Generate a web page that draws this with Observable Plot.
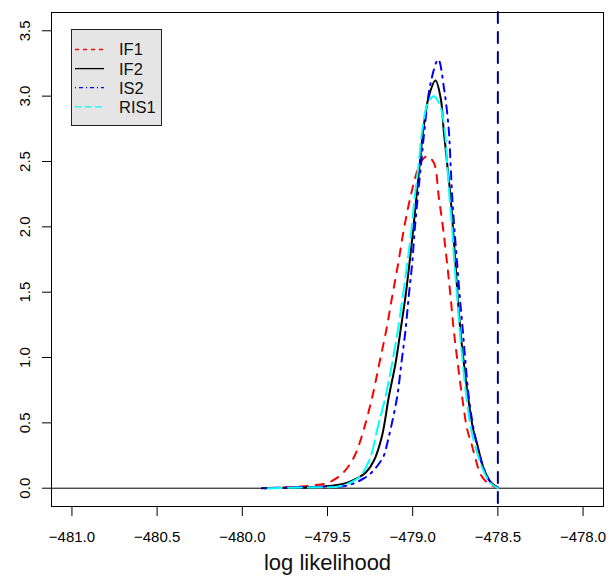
<!DOCTYPE html>
<html><head><meta charset="utf-8">
<script src="https://cdn.jsdelivr.net/npm/d3@7"></script>
<script src="https://cdn.jsdelivr.net/npm/@observablehq/plot@0.6"></script>
<style>
body{margin:0;background:#fff;}
#wrap{position:relative;width:610px;height:578px;font-family:"Liberation Sans",Arial,sans-serif;}
#legend{position:absolute;left:71px;top:29px;}
</style></head><body><div id="wrap"></div>
<script>
// series names, colours, dash patterns
const seriesNames = ["IF1", "IF2", "IS2", "RIS1"];
const seriesColors = ["#ff0000", "#000000", "#0000ff", "#00ffff"];
const seriesDash = ["8,8", null, "2,6,8,6", "14,6"];
const legendDash = ["4,4", null, "1,3,4,3", "7,3"];

// density curves (x = log likelihood, y = density)
const if1X = [-479.85, -479.75, -479.677, -479.60, -479.501, -479.423, -479.365, -479.33, -479.287, -479.237, -479.195, -479.155, -479.12, -479.085, -479.052, -479.013, -478.975, -478.945, -478.915, -478.876, -478.847, -478.821, -478.798, -478.778, -478.759, -478.736, -478.71, -478.68, -478.655, -478.632, -478.603, -478.56, -478.505];
const if1Y = [0.002, 0.006, 0.012, 0.02, 0.04, 0.10, 0.19, 0.28, 0.45, 0.70, 0.96, 1.21, 1.47, 1.72, 1.98, 2.23, 2.42, 2.51, 2.54, 2.49, 2.23, 1.98, 1.72, 1.47, 1.21, 0.96, 0.70, 0.45, 0.34, 0.23, 0.11, 0.04, 0.005];

const if2X = [-479.89, -479.75, -479.60, -479.52, -479.443, -479.38, -479.325, -479.275, -479.228, -479.18, -479.14, -479.10, -479.071, -479.042, -479.019, -478.997, -478.978, -478.958, -478.938, -478.905, -478.866, -478.835, -478.818, -478.798, -478.778, -478.763, -478.749, -478.736, -478.72, -478.70, -478.675, -478.645, -478.622, -478.603, -478.583, -478.545, -478.495];
const if2Y = [0.0, 0.003, 0.008, 0.014, 0.025, 0.045, 0.077, 0.12, 0.21, 0.40, 0.70, 0.96, 1.21, 1.47, 1.72, 1.98, 2.23, 2.49, 2.74, 3.00, 3.12, 2.98, 2.74, 2.49, 2.23, 1.98, 1.72, 1.47, 1.21, 0.96, 0.70, 0.45, 0.34, 0.24, 0.15, 0.05, 0.0];

const is2X = [-479.873, -479.75, -479.60, -479.50, -479.404, -479.34, -479.287, -479.245, -479.208, -479.169, -479.15, -479.13, -479.091, -479.066, -479.042, -479.023, -479.003, -478.988, -478.970, -478.95, -478.931, -478.895, -478.85, -478.815, -478.788, -478.778, -478.768, -478.755, -478.739, -478.724, -478.706, -478.69, -478.671, -478.642, -478.603, -478.583, -478.545, -478.495];
const is2Y = [0.0, 0.005, 0.01, 0.012, 0.015, 0.04, 0.075, 0.115, 0.17, 0.25, 0.34, 0.45, 0.70, 0.96, 1.21, 1.47, 1.72, 1.98, 2.23, 2.49, 2.74, 3.10, 3.28, 3.05, 2.74, 2.49, 2.23, 1.98, 1.72, 1.47, 1.21, 0.96, 0.70, 0.45, 0.23, 0.15, 0.05, 0.0];

const ris1X = [-479.85, -479.70, -479.55, -479.443, -479.37, -479.306, -479.25, -479.208, -479.16, -479.12, -479.087, -479.058, -479.032, -479.007, -478.988, -478.964, -478.944, -478.91, -478.876, -478.84, -478.812, -478.798, -478.784, -478.768, -478.755, -478.739, -478.724, -478.706, -478.685, -478.657, -478.612, -478.58, -478.545, -478.50];
const ris1Y = [0.0, 0.004, 0.007, 0.012, 0.04, 0.095, 0.23, 0.45, 0.70, 0.96, 1.21, 1.47, 1.72, 1.98, 2.23, 2.49, 2.74, 2.95, 3.00, 2.93, 2.74, 2.49, 2.23, 1.98, 1.72, 1.47, 1.21, 0.96, 0.70, 0.45, 0.23, 0.12, 0.04, 0.0];

// reference lines
const refX = [-478.5];
const refY = [0];

// axis ticks
const xTicks = [-481.0, -480.5, -480.0, -479.5, -479.0, -478.5, -478.0];
const yTicks = [0.0, 0.5, 1.0, 1.5, 2.0, 2.5, 3.0, 3.5];
const xLabel = "log likelihood";

const seriesX = [if1X, if2X, is2X, ris1X];
const seriesY = [if1Y, if2Y, is2Y, ris1Y];
const toRows = (xs, ys) => xs.map((x, i) => ({x, y: ys[i]}));

const fmt = d3.format(".1f");

const lineMarks = seriesNames.map((name, i) => Plot.line(toRows(seriesX[i], seriesY[i]), {
  x: "x", y: "y", curve: "catmull-rom",
  stroke: seriesColors[i], strokeWidth: 2,
  strokeDasharray: seriesDash[i] || undefined,
  strokeLinecap: seriesDash[i] ? "round" : "butt"
}));

const chart = Plot.plot({
  width: 610, height: 578,
  marginLeft: 51, marginRight: 7, marginTop: 12, marginBottom: 72,
  style: {fontFamily: "'Liberation Sans', Arial, sans-serif", fontSize: "15px", background: "white", color: "black"},
  x: {domain: [-481.12, -477.88], axis: null},
  y: {domain: [-0.14, 3.64], axis: null},
  marks: [
    Plot.axisX(xTicks, {tickSize: 10, tickPadding: 15, tickFormat: fmt, label: null, fontSize: 15, strokeWidth: 1}),
    Plot.axisY(yTicks, {tickSize: 9, tickPadding: 17, tickRotate: -90, textAnchor: "middle", lineAnchor: "middle", tickFormat: fmt, label: null, fontSize: 15, strokeWidth: 1}),
    Plot.text([xLabel], {text: d => d, frameAnchor: "bottom", dy: 56, fontSize: 22, lineAnchor: "middle", fill: "#111"}),
    Plot.ruleY(refY, {stroke: "black", strokeWidth: 1}),
    ...lineMarks,
    Plot.ruleX(refX, {stroke: "#00008b", strokeWidth: 2, strokeDasharray: "11,9", strokeLinecap: "round"}),
    Plot.frame({stroke: "black", strokeWidth: 1})
  ]
});

const wrap = document.getElementById("wrap");
wrap.appendChild(chart);

// legend box (R-style, inside plot area)
const ns = "http://www.w3.org/2000/svg";
const leg = document.createElementNS(ns, "svg");
leg.setAttribute("id", "legend");
leg.setAttribute("width", 92);
leg.setAttribute("height", 98);
const box = document.createElementNS(ns, "rect");
box.setAttribute("x", 0.5); box.setAttribute("y", 0.5);
box.setAttribute("width", 90); box.setAttribute("height", 96);
box.setAttribute("fill", "#e5e5e5"); box.setAttribute("stroke", "#222");
leg.appendChild(box);
seriesNames.forEach((name, i) => {
  const cy = 20.5 + i * 19.1;
  const ln = document.createElementNS(ns, "line");
  ln.setAttribute("x1", 4); ln.setAttribute("x2", 33);
  ln.setAttribute("y1", cy); ln.setAttribute("y2", cy);
  ln.setAttribute("style", `stroke:${seriesColors[i]};stroke-width:1.3px;` + (legendDash[i] ? `stroke-dasharray:${legendDash[i]};` : ""));
  leg.appendChild(ln);
  const tx = document.createElementNS(ns, "text");
  tx.setAttribute("x", 48); tx.setAttribute("y", cy);
  tx.setAttribute("dy", "0.36em");
  tx.setAttribute("style", "font-size:16.5px;font-family:'Liberation Sans',Arial,sans-serif;fill:#111;");
  tx.textContent = name;
  leg.appendChild(tx);
});
wrap.appendChild(leg);
</script>
</body></html>
